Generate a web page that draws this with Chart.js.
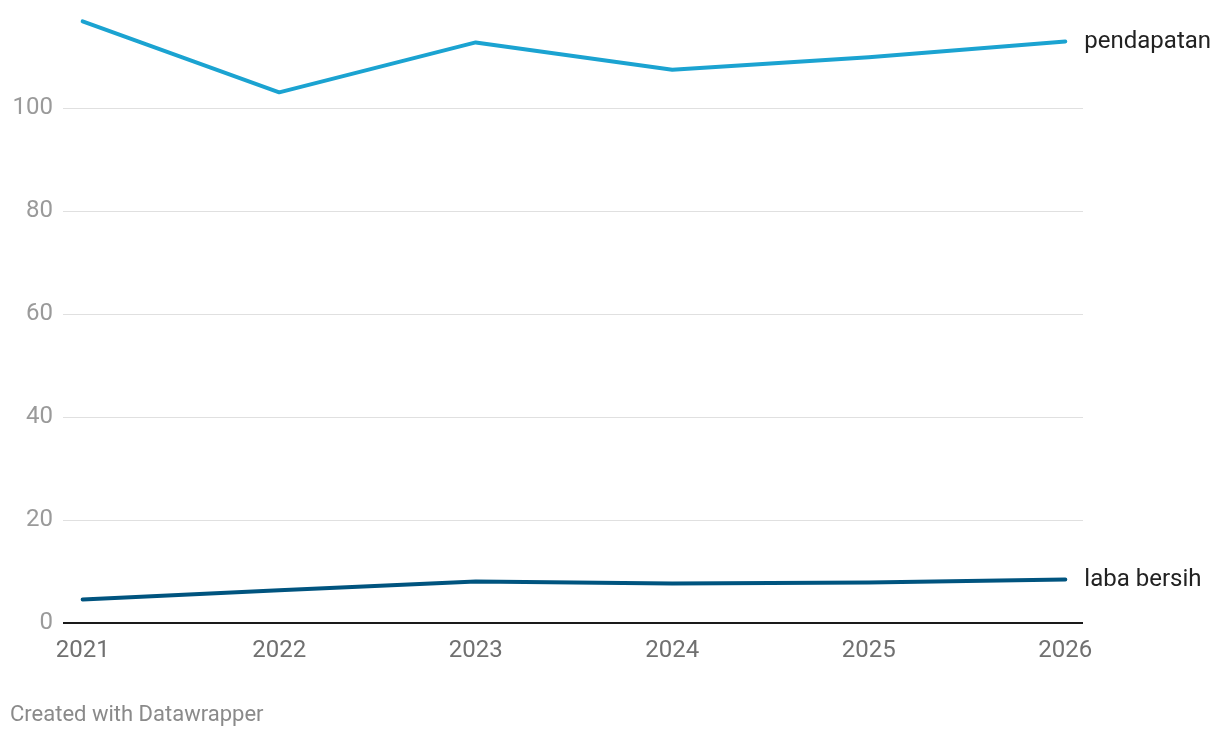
<!DOCTYPE html>
<html>
<head>
<meta charset="utf-8">
<script src="https://cdn.jsdelivr.net/npm/chart.js@4"></script>
<style>
  html, body { margin: 0; padding: 0; background: #fff; }
  #wrap { position: relative; width: 1220px; height: 738px; }
  #c { position: absolute; left: 0; top: 0; }
  #footer { position: absolute; left: 10px; top: 701px; font-family: Roboto, sans-serif; font-size: 22px; line-height: 26px; color: #8a8a8a; }
</style>
</head>
<body>
<div id="wrap">
  <canvas id="c" width="1220" height="738"></canvas>
  <div id="footer">Created with Datawrapper</div>
</div>
<script>
const years = [2021, 2022, 2023, 2024, 2025, 2026];
const pendapatan = [116.9, 103.1, 112.8, 107.5, 109.9, 113.0];
const labaBersih = [4.6, 6.4, 8.1, 7.7, 7.9, 8.5];
const seriesNames = ['pendapatan', 'laba bersih'];
const seriesColors = ['#1ba3d1', '#00547f'];
const yTicks = [0, 20, 40, 60, 80, 100];

const toPts = arr => arr.map((v, i) => ({ x: years[i], y: v }));

const endLabels = {
  id: 'endLabels',
  afterDatasetsDraw(chart) {
    const ctx = chart.ctx;
    ctx.save();
    ctx.font = '24px Roboto, sans-serif';
    ctx.fillStyle = '#222';
    ctx.textAlign = 'left';
    ctx.textBaseline = 'middle';
    chart.data.datasets.forEach((ds, i) => {
      const meta = chart.getDatasetMeta(i);
      const last = meta.data[meta.data.length - 1];
      ctx.fillText(ds.label, last.x + 19, last.y + 1);
    });
    ctx.restore();
  }
};

new Chart(document.getElementById('c'), {
  type: 'line',
  data: {
    datasets: [
      { label: seriesNames[0], data: toPts(pendapatan), borderColor: seriesColors[0], borderWidth: 4, pointRadius: 0, tension: 0, borderCapStyle: 'round', borderJoinStyle: 'round', clip: false },
      { label: seriesNames[1], data: toPts(labaBersih), borderColor: seriesColors[1], borderWidth: 4, pointRadius: 0, tension: 0, borderCapStyle: 'round', borderJoinStyle: 'round', clip: false }
    ]
  },
  options: {
    responsive: false,
    animation: false,
    layout: { padding: { left: 0, right: 137, top: 0, bottom: 60 } },
    plugins: { legend: { display: false }, tooltip: { enabled: false } },
    scales: {
      x: {
        type: 'linear',
        min: 2020.9,
        max: 2026.09,
        afterBuildTicks: s => { s.ticks = years.map(v => ({ value: v })); },
        grid: { display: false, drawTicks: false },
        border: { display: false },
        ticks: { font: { family: 'Roboto', size: 24 }, color: '#707070', padding: 13, callback: v => String(v), maxRotation: 0 }
      },
      y: {
        min: 0,
        max: 116.3,
        afterBuildTicks: s => { s.ticks = yTicks.map(v => ({ value: v })); },
        afterFit: s => { s.width = 63; },
        grid: {
          drawTicks: false,
          color: c => c.tick && c.tick.value === 0 ? '#1a1a1a' : '#e0e0e0',
          lineWidth: c => c.tick && c.tick.value === 0 ? 2 : 1
        },
        border: { display: false },
        ticks: { font: { family: 'Roboto', size: 24 }, color: '#9a9a9a', padding: 10 }
      }
    }
  },
  plugins: [endLabels]
});
</script>
</body>
</html>
